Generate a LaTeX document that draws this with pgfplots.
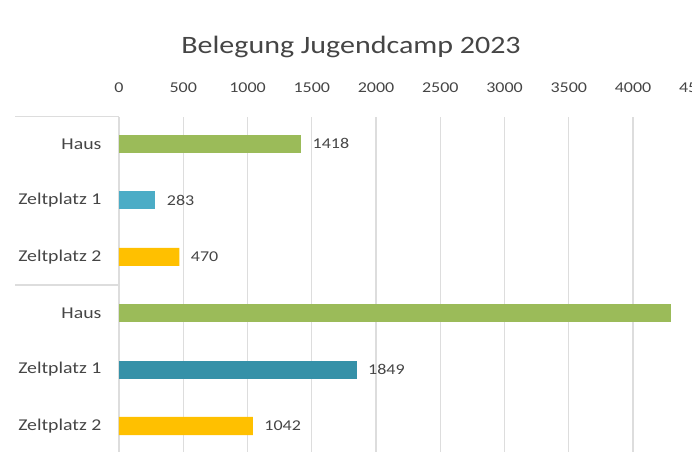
\documentclass[border=0pt]{standalone}
\usepackage{fontspec}
\setmainfont{Carlito}[FakeStretch=1.2]
\usepackage{pgfplots}
\pgfplotsset{compat=1.18}
\definecolor{cgreen}{HTML}{9BBB59}
\definecolor{cblueA}{HTML}{4BACC6}
\definecolor{cblueB}{HTML}{3591A8}
\definecolor{cyellow}{HTML}{FFC000}
\definecolor{gridc}{HTML}{DDDDDD}
\definecolor{txt}{HTML}{454545}
\begin{document}
\begin{tikzpicture}
\begin{axis}[
 at={(0,0)}, anchor=south west,
 scale only axis, width=578.25pt, height=337.3pt,
 xmin=0, xmax=4500, ymin=0.5, ymax=6.479,
 xbar, bar width=18pt, bar shift=0pt,
 xtick={0,500,...,4500},
 xticklabel pos=upper,
 xmajorgrids, grid style={draw=gridc, line width=1.1pt},
 axis line style={draw=none},
 major tick length=0pt,
 ytick={1,...,6},
 yticklabels={Zeltplatz 2, Zeltplatz 1, Haus, Zeltplatz 2, Zeltplatz 1, Haus},
 /pgf/number format/assume math mode=true,
 /pgf/number format/set thousands separator={},
 xticklabel style={font=\fontsize{15}{15}\selectfont, text=txt, anchor=center, yshift=29pt},
 yticklabel style={font=\fontsize{16.5}{16.5}\selectfont, text=txt, anchor=east, xshift=-14pt},
 nodes near coords style={anchor=west, xshift=8pt, font=\fontsize{15}{15}\selectfont, text=txt},
 clip=false,
]
\addplot[fill=cgreen, draw=none, nodes near coords] coordinates {(1418,6)};
\addplot[fill=cgreen, draw=none] coordinates {(4296,3)};
\addplot[fill=cblueA, draw=none, nodes near coords] coordinates {(283,5)};
\addplot[fill=cblueB, draw=none, nodes near coords] coordinates {(1849,2)};
\addplot[fill=cyellow, draw=none, nodes near coords] coordinates {(470,4) (1042,1)};
\draw[gridc, line width=1pt] (axis cs:0,6.479) -- ([xshift=-104pt]axis cs:0,6.479);
\draw[gridc, line width=1.6pt] (axis cs:0,3.5) -- ([xshift=-104pt]axis cs:0,3.5);
\end{axis}
\node[font=\fontsize{25}{25}\selectfont, text=txt] at (232pt,407pt) {Belegung Jugendcamp 2023};
\pgfresetboundingbox
\useasboundingbox (-119pt,3.2pt) rectangle (573pt,454.2pt);
\end{tikzpicture}
\end{document}
